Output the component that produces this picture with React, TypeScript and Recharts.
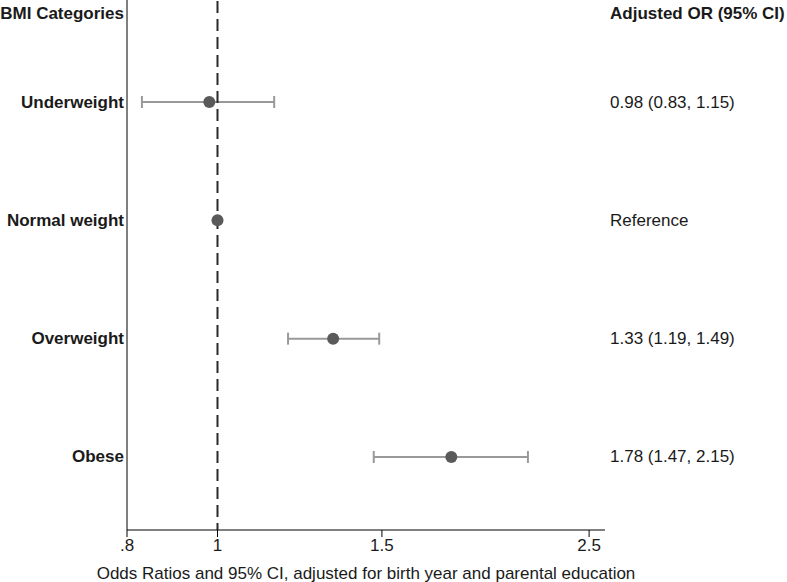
import React from 'react';
import { ScatterChart, Scatter, XAxis, YAxis, ErrorBar, ReferenceLine, Label } from 'recharts';

const categories = ['Underweight', 'Normal weight', 'Overweight', 'Obese'];
const oddsRatios = [0.98, 1.0, 1.33, 1.78];
const lowerCI: (number | null)[] = [0.83, null, 1.19, 1.47];
const upperCI: (number | null)[] = [1.15, null, 1.49, 2.15];
const orLabels = ['0.98 (0.83, 1.15)', 'Reference', '1.33 (1.19, 1.49)', '1.78 (1.47, 2.15)'];
const xTicks = [0.8, 1, 1.5, 2.5];
const leftHeader = 'BMI Categories';
const rightHeader = 'Adjusted OR (95% CI)';
const headerPos = 0.25;

const data = categories.map((c, i) => ({
  y: i + 1,
  x: oddsRatios[i],
  err: lowerCI[i] != null && upperCI[i] != null ? [oddsRatios[i] - (lowerCI[i] as number), (upperCI[i] as number) - oddsRatios[i]] : null,
}));

const yTicks = [headerPos, 1, 2, 3, 4];
const FONT = '"Liberation Sans", Arial, Helvetica, sans-serif';

const LeftTick = (props: any) => {
  const { x, y, payload } = props;
  const v = payload.value;
  const text = v === headerPos ? leftHeader : categories[Math.round(v) - 1];
  return (
    <text x={x} y={y} textAnchor="end" dominantBaseline="central" fontFamily={FONT} fontSize={17} fontWeight="bold" fill="#1a1a1a">
      {text}
    </text>
  );
};

const RightTick = (props: any) => {
  const { x, y, payload } = props;
  const v = payload.value;
  const isHeader = v === headerPos;
  const text = isHeader ? rightHeader : orLabels[Math.round(v) - 1];
  return (
    <text x={x} y={y} textAnchor="start" dominantBaseline="central" fontFamily={FONT} fontSize={17} fontWeight={isHeader ? 'bold' : 'normal'} fill="#1a1a1a">
      {text}
    </text>
  );
};

const Dot = (props: any) => <circle cx={props.cx} cy={props.cy} r={6} fill="#5a5a5a" />;

export default function App() {
  return (
    <div style={{ position: 'absolute', left: 0, top: 0, width: 787, height: 582, background: '#fff' }}>
      <ScatterChart width={787} height={582} margin={{ top: 0, right: 0, bottom: 0, left: 0 }}>
        <XAxis
          type="number"
          dataKey="x"
          scale="log"
          domain={[0.8, 2.6]}
          allowDataOverflow
          ticks={xTicks}
          tickFormatter={(v: number) => (v === 0.8 ? '.8' : String(v))}
          height={52}
          stroke="#000"
          tickSize={7}
          tick={{ fontFamily: FONT, fontSize: 17, fill: '#1a1a1a' }}
        >
          <Label
            value="Odds Ratios and 95% CI, adjusted for birth year and parental education"
            position="insideBottom"
            offset={3}
            style={{ fontFamily: FONT, fontSize: 17, fill: '#1a1a1a' }}
          />
        </XAxis>
        <YAxis
          yAxisId="left"
          type="number"
          dataKey="y"
          reversed
          domain={[0.138, 4.617]}
          allowDataOverflow
          ticks={yTicks}
          width={127}
          tickSize={0}
          tickMargin={3}
          tickLine={false}
          stroke="#000"
          tick={<LeftTick />}
          interval={0}
        />
        <YAxis
          yAxisId="right"
          orientation="right"
          type="number"
          reversed
          domain={[0.138, 4.617]}
          allowDataOverflow
          ticks={yTicks}
          width={182}
          tickSize={0}
          tickMargin={5}
          tickLine={false}
          axisLine={false}
          tick={<RightTick />}
          interval={0}
        />
        <Scatter yAxisId="left" data={data} shape={<Dot />} isAnimationActive={false}>
          <ErrorBar dataKey="err" direction="x" width={6} stroke="#999999" strokeWidth={2} />
        </Scatter>
        <ReferenceLine yAxisId="left" x={1} stroke="#2a2a2a" strokeWidth={2} strokeDasharray="12 6" strokeDashoffset={5} />
      </ScatterChart>
    </div>
  );
}
